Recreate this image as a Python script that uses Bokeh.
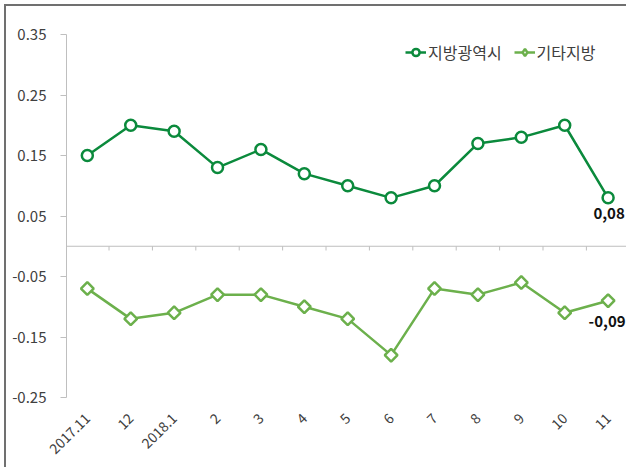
import math
from bokeh.plotting import figure
from bokeh.models import (ColumnDataSource, FixedTicker, Span, Legend, LegendItem, Range1d,
                          CDSView, IndexFilter)
from bokeh.core.properties import value
from bokeh.embed import file_html
from bokeh.resources import INLINE

months = ["2017.11", "12", "2018.1", "2", "3", "4", "5", "6", "7", "8", "9", "10", "11"]
metro = [0.15, 0.20, 0.19, 0.13, 0.16, 0.12, 0.10, 0.08, 0.10, 0.17, 0.18, 0.20, 0.08]
other = [-0.07, -0.12, -0.11, -0.08, -0.08, -0.10, -0.12, -0.18, -0.07, -0.08, -0.06, -0.11, -0.09]
y_ticks = [0.35, 0.25, 0.15, 0.05, -0.05, -0.15, -0.25]
series_names = ["지방광역시", "기타지방"]

FONT = "Noto Sans CJK KR"
C1 = "#0b8a3c"
C2 = "#6cb04c"
GRAY = "#bfbfbf"

xs = list(range(len(months)))
last = len(months) - 1
src = ColumnDataSource(dict(x=xs, metro=metro, other=other))

p = figure(width=622, height=463, output_backend="svg", toolbar_location=None,
           x_range=Range1d(-0.48, 12.47), y_range=Range1d(-0.25, 0.35),
           min_border_left=60, min_border_right=0, min_border_top=28, min_border_bottom=72,
           styles={"border-top": "2px solid #707070", "border-left": "2px solid #707070",
                   "margin-left": "4px", "margin-top": "4px"})
p.outline_line_color = None
p.xgrid.grid_line_color = None
p.ygrid.grid_line_color = None
p.background_fill_color = "white"

# y axis
p.yaxis.ticker = FixedTicker(ticks=y_ticks)
p.yaxis.major_label_overrides = {t: f"{t:.2f}" for t in y_ticks}
p.yaxis.axis_line_color = GRAY
p.yaxis.major_tick_line_color = GRAY
p.yaxis.major_tick_out = 6
p.yaxis.major_tick_in = 0
p.yaxis.minor_tick_line_color = None
p.yaxis.major_label_text_font = FONT
p.yaxis.major_label_text_font_size = "15px"
p.yaxis.major_label_text_color = "#404040"
p.yaxis.major_label_standoff = 14

# x axis (labels only at bottom)
p.xaxis.ticker = FixedTicker(ticks=xs)
p.xaxis.major_label_overrides = {i: m for i, m in enumerate(months)}
p.xaxis.axis_line_color = None
p.xaxis.major_tick_line_color = None
p.xaxis.minor_tick_line_color = None
p.xaxis.major_label_orientation = math.pi / 4
p.xaxis.major_label_text_font = FONT
p.xaxis.major_label_text_font_size = "14px"
p.xaxis.major_label_text_color = "#404040"
p.xaxis.major_label_standoff = 12

# zero line with category boundary ticks
p.add_layout(Span(location=0, dimension="width", line_color=GRAY, line_width=1))
bx = [i - 0.5 for i in range(1, len(months) + 1)]
p.segment(x0=bx, x1=bx, y0=[0] * len(bx), y1=[-0.007] * len(bx), line_color=GRAY, line_width=1)

l1 = p.line("x", "metro", source=src, line_color=C1, line_width=2.5)
s1 = p.scatter("x", "metro", source=src, marker="circle", size=11, line_color=C1,
               line_width=2.5, fill_color="white")
l2 = p.line("x", "other", source=src, line_color=C2, line_width=2.5)
# legend glyph: a diamond on the last point, fully covered by the rotated square drawn next
s2_leg = p.scatter("x", "other", source=src, view=CDSView(filter=IndexFilter(indices=[last])),
                   marker="diamond", size=12, line_color=C2, line_width=2.5, fill_color="white")
s2 = p.scatter("x", "other", source=src, marker="square", angle=math.pi / 4, size=9,
               line_color=C2, line_width=2.5, fill_color="white")

# last-value labels
p.text(x=[last], y=[metro[last]], text=[f"{metro[last]:.2f}".replace(".", ",")],
       x_offset=1, y_offset=16, text_align="center", text_baseline="middle",
       text_font=value(FONT), text_font_size="15px", text_font_style="bold", text_color="#111111")
p.text(x=[last], y=[other[last]], text=[f"{other[last]:.2f}".replace(".", ",")],
       x_offset=-1, y_offset=21, text_align="center", text_baseline="middle",
       text_font=value(FONT), text_font_size="15px", text_font_style="bold", text_color="#111111")

legend = Legend(items=[LegendItem(label=series_names[0], renderers=[l1, s1]),
                       LegendItem(label=series_names[1], renderers=[l2, s2_leg])],
                location=(339, 333), orientation="horizontal")
legend.border_line_color = None
legend.background_fill_alpha = 0
legend.label_text_font = FONT
legend.label_text_font_size = "16px"
legend.label_text_color = "#404040"
legend.glyph_width = 21
legend.glyph_height = 18
legend.label_height = 18
legend.label_standoff = 2
legend.spacing = 12
legend.padding = 0
legend.margin = 0
p.add_layout(legend, "center")

open("out.html", "w").write(file_html(p, INLINE))
